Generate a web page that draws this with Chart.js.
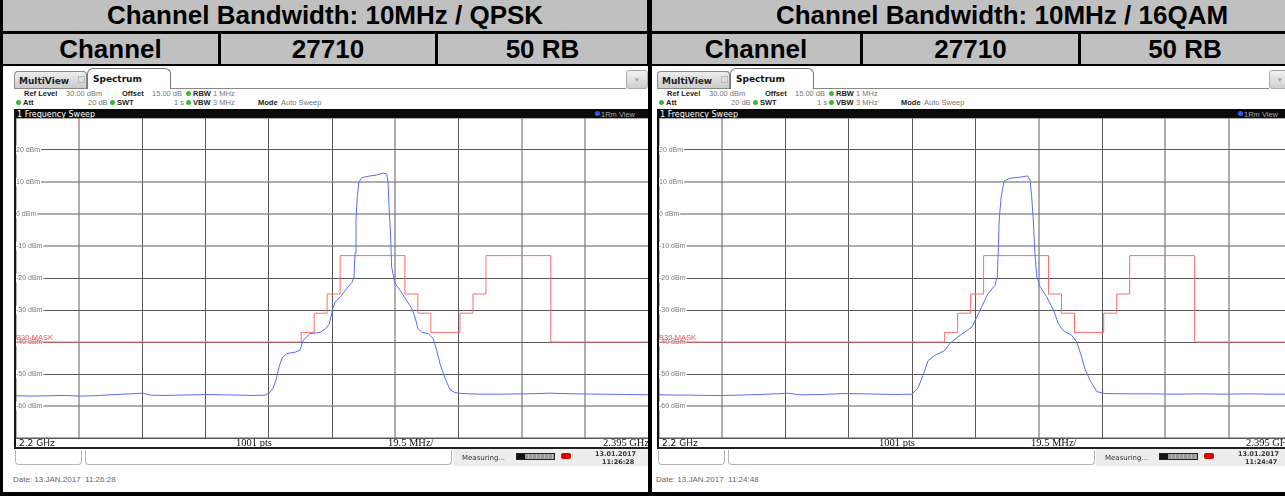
<!DOCTYPE html>
<html><head><meta charset="utf-8">
<script src="https://cdn.jsdelivr.net/npm/chart.js@4.4.1/dist/chart.umd.min.js"></script>
<style>
html,body{margin:0;padding:0}
body{width:1285px;height:496px;overflow:hidden;position:relative;background:#000}
body div,body span,body canvas{position:absolute;box-sizing:border-box}
.t{white-space:pre;line-height:1}
</style></head><body>
<script>
// ---------------- data ----------------
const panelTitles = ['Channel Bandwidth: 10MHz / QPSK', 'Channel Bandwidth: 10MHz / 16QAM'];
const channelRow = ['Channel', '27710', '50 RB'];
const stampDates = ['Date: 13.JAN.2017  11:26:28', 'Date: 13.JAN.2017  11:24:48'];
const stampTimes = ['11:26:28', '11:24:47'];
const freqStartMHz = 2200, freqStopMHz = 2395, freqDivMHz = 19.5;
const refLevel = 30, bottomLevel = -70, levelDiv = 10;

const leftFreq = [2200, 2205, 2210.5, 2215, 2219.4, 2224, 2229, 2235.2, 2239.2, 2241.3,
  2246, 2250.6, 2255, 2258.6, 2264, 2269.1, 2273, 2276.8, 2278.1, 2279.3,
  2280.2, 2281.1, 2282.1, 2283.6, 2286.1, 2287.6, 2288.6, 2289.5, 2290.7, 2293.8,
  2295.6, 2296.6, 2297.8, 2298.4, 2300.0, 2302.1, 2303.7, 2304.3, 2304.6, 2304.9,
  2305.3, 2305.8, 2306.7, 2308.2, 2311.3, 2313.2, 2314.4, 2314.8, 2315.1, 2315.6,
  2315.9, 2316.9, 2318.5, 2320.5, 2322.1, 2323.1, 2324.0, 2325.2, 2327.2, 2328.7,
  2329.8, 2330.8, 2332.4, 2333.9, 2335.4, 2337.6, 2343, 2349.3, 2357, 2364.8,
  2372, 2380.2, 2388, 2395];
const leftLevel = [-56.8, -56.9, -56.8, -56.7, -56.9, -56.8, -56.5, -56.2, -56.0, -56.6,
  -56.7, -56.6, -56.5, -56.4, -56.5, -56.6, -56.7, -56.6, -56.0, -54.5,
  -52.0, -48.0, -45.0, -43.6, -43.2, -42.6, -39.5, -38.6, -37.4, -37.0,
  -35.8, -34.5, -29.5, -27.6, -26.0, -23.2, -21.3, -19.7, -12.2, -1.9,
  5.3, 10.0, 11.3, 11.7, 12.2, 12.8, 12.5, 9.7, 2.3, -7.1,
  -16.5, -21.6, -23.8, -27.0, -29.5, -32.2, -35.8, -36.9, -37.4, -38.9,
  -42.6, -46.7, -51.4, -54.9, -55.8, -56.1, -56.3, -56.3, -56.2, -56.0,
  -56.2, -56.3, -56.4, -56.5];

const rightFreq = [2200, 2205, 2209.5, 2215, 2219.4, 2225, 2231.1, 2236, 2239.7, 2243.4,
  2250, 2257.3, 2263, 2268.1, 2273, 2277.9, 2279.8, 2281.3, 2282.9, 2285.0,
  2288.1, 2289.6, 2292.1, 2294.3, 2296.4, 2297.9, 2299.4, 2301.4, 2303.5, 2304.2,
  2304.5, 2304.8, 2305.4, 2306.3, 2308.1, 2311.2, 2313.5, 2314.3, 2314.8, 2315.3,
  2315.8, 2316.4, 2317.4, 2319.4, 2321.5, 2323.0, 2324.5, 2327.1, 2328.7, 2330.2,
  2331.2, 2332.8, 2334.9, 2337.4, 2344, 2351.3, 2359, 2366.7, 2374, 2382.1,
  2388, 2395];
const rightLevel = [-56.5, -56.6, -56.6, -56.7, -56.7, -56.6, -56.4, -56.2, -56.0, -56.5,
  -56.4, -56.1, -56.2, -56.3, -56.4, -56.3, -54.3, -50.5, -45.8, -44.2,
  -42.6, -40.4, -38.4, -36.8, -35.3, -32.2, -29.0, -24.8, -22.3, -19.7,
  -12.3, -1.9, 5.4, 10.3, 11.2, 11.5, 11.9, 10.7, 5.4, -1.9,
  -12.3, -19.7, -22.7, -25.8, -30.0, -34.2, -36.4, -37.9, -40.0, -44.7,
  -48.4, -52.0, -55.5, -56.1, -56.2, -56.2, -56.3, -56.2, -56.3, -56.2,
  -56.3, -56.3];

const maskFreq = [2200, 2288, 2292, 2296, 2300, 2320, 2324, 2328, 2337, 2341, 2345, 2365, 2395];
const maskLevel = [-40, -37, -31, -25, -13, -25, -31, -37, -31, -25, -13, -40, -40];
const maskName = 'B30-MASK';

// ---------------- helpers ----------------
function el(css, text, cls) {
  const d = document.createElement('div');
  d.style.cssText = css;
  if (cls) d.className = cls;
  if (text !== undefined) d.textContent = text;
  document.body.appendChild(d);
  return d;
}
const HDR = 'background:#c0c0c0;color:#000;font:bold 26px "Liberation Sans",Arial,sans-serif;display:flex;align-items:center;justify-content:center;white-space:nowrap;overflow:hidden;';

// header rows
el(`left:3px;top:0;width:644px;height:31px;${HDR}`, panelTitles[0]);
el(`left:652px;top:0;width:700px;height:31px;${HDR}`, panelTitles[1]);
[[3,215],[221,214],[438,209]].forEach((c,i)=>el(`left:${c[0]}px;top:34px;width:${c[1]}px;height:30px;${HDR}`, channelRow[i]));
[[652,208],[863,215],[1081,208]].forEach((c,i)=>el(`left:${c[0]}px;top:34px;width:${c[1]}px;height:30px;${HDR}`, channelRow[i]));

// image cells
el('left:3px;top:66px;width:645px;height:426px;background:#fff;');
el('left:652px;top:66px;width:700px;height:426px;background:#fff;');

const SM = 'font-family:"Liberation Sans",Arial,sans-serif;';
function txt(x, y, s, css) { return el(`left:${x}px;top:${y}px;${SM}font-size:7.5px;color:#777;${css||''}`, s, 't'); }
function dot(x, y, c) { el(`left:${x}px;top:${y}px;width:5px;height:5px;border-radius:3px;background:${c||'#3cb43c'};`); }

function buildPanel(dx, idx, plotW) {
  // tabs
  el(`left:${14+dx}px;top:71px;width:73px;height:18px;background:linear-gradient(#ececec,#c9c9c9);border:1px solid #8a8a8a;border-bottom:none;border-radius:4px 4px 0 0;`);
  el(`left:${19+dx}px;top:75.5px;font:bold 9px "DejaVu Sans",sans-serif;color:#222;`, 'MultiView', 't');
  el(`left:${78+dx}px;top:76px;width:7px;height:7px;border:1px solid #bbb;background:#ddd;`);
  el(`left:${87+dx}px;top:68px;width:84px;height:21px;background:#fff;border:1px solid #777;border-bottom:none;border-radius:6px 6px 0 0;`);
  el(`left:${93+dx}px;top:73.5px;font:bold 9px "DejaVu Sans",sans-serif;color:#111;`, 'Spectrum', 't');
  el(`left:${171+dx}px;top:88px;width:${455}px;height:1px;background:#888;`);
  el(`left:${14+dx}px;top:88px;width:73px;height:1px;background:#888;`);
  el(`left:${626+dx}px;top:70px;width:22px;height:19px;background:linear-gradient(#f2f2f2,#cfcfcf);border:1px solid #aaa;border-radius:3px;color:#999;font:7px sans-serif;text-align:center;line-height:17px;`, '\u25BE');
  // info lines
  const B = 'color:#222;font-weight:bold;';
  txt(24+dx, 90, 'Ref Level', B); txt(66+dx, 90, '30.00 dBm');
  txt(122+dx, 90, 'Offset', B); txt(152+dx, 90, '15.00 dB');
  dot(186+dx, 91); txt(193+dx, 90, 'RBW', B); txt(213+dx, 90, '1 MHz');
  dot(16+dx, 100); txt(23+dx, 99, 'Att', B); txt(88+dx, 99, '20 dB');
  dot(110+dx, 100); txt(117+dx, 99, 'SWT', B); txt(174+dx, 99, '1 s');
  dot(186+dx, 100); txt(193+dx, 99, 'VBW', B); txt(213+dx, 99, '3 MHz');
  txt(258+dx, 99, 'Mode', B); txt(281+dx, 99, 'Auto Sweep');
  // title bar
  el(`left:${14+dx}px;top:109px;width:${plotW+2}px;height:9px;background:#0a0a0a;`);
  el(`left:${17+dx}px;top:109.5px;font:8px "DejaVu Sans",sans-serif;color:#fff;`, '1 Frequency Sweep', 't');
  dot(595+dx, 111, '#2a5cff');
  el(`left:${601+dx}px;top:110px;font:7.5px "Liberation Sans",sans-serif;color:#aaa;`, '1Rm View', 't');
  // plot frame
  el(`left:${14+dx}px;top:109px;width:2px;height:340px;background:#111;`);
  const cv = document.createElement('canvas');
  cv.width = plotW; cv.height = 320;
  cv.style.cssText = `left:${16+dx}px;top:118px;width:${plotW}px;height:320px;`;
  document.body.appendChild(cv);
  // axis strip
  el(`left:${16+dx}px;top:438px;width:${plotW}px;height:1px;background:#555;`);
  el(`left:${19+dx}px;top:437.5px;font:9px "DejaVu Sans",sans-serif;color:#111;`, (freqStartMHz/1000).toFixed(1)+' GHz', 't');
  el(`left:${236+dx}px;top:437px;font:10.5px "Liberation Serif",serif;color:#111;`, '1001 pts', 't');
  el(`left:${388+dx}px;top:437px;font:10.5px "Liberation Serif",serif;color:#111;`, freqDivMHz+' MHz/', 't');
  el(`left:${603+dx}px;top:437px;font:10.5px "Liberation Serif",serif;color:#111;`, (freqStopMHz/1000).toFixed(3)+' GHz', 't');
  el(`left:${14+dx}px;top:447px;width:${plotW+2}px;height:2px;background:#222;`);
  // status bar
  el(`left:${15+dx}px;top:450px;width:67px;height:15px;border:1px solid #b5b5b5;border-top:none;border-radius:0 0 4px 4px;background:#fff;`);
  el(`left:${85+dx}px;top:450px;width:367px;height:15px;border:1px solid #b5b5b5;border-top:none;border-radius:0 0 4px 4px;background:#fff;`);
  el(`left:${453+dx}px;top:449px;width:${plotW-437}px;height:17px;background:#ededed;`);
  el(`left:${462+dx}px;top:454px;font:7px "DejaVu Sans",sans-serif;color:#333;`, 'Measuring...', 't');
  el(`left:${516+dx}px;top:453px;width:39px;height:7px;border:1px solid #222;background:repeating-linear-gradient(90deg,#999 0 3px,#bbb 3px 4px);`);
  el(`left:${517+dx}px;top:454px;width:8px;height:5px;background:#111;`);
  el(`left:${561+dx}px;top:453px;width:10px;height:6px;background:#d00;border-radius:2px;`);
  el(`left:${595+dx}px;top:450px;font:bold 6.5px "DejaVu Sans",sans-serif;color:#333;`, '13.01.2017', 't');
  el(`left:${602+dx}px;top:458px;font:bold 6.5px "DejaVu Sans",sans-serif;color:#333;`, stampTimes[idx], 't');
  // date
  el(`left:${13+dx}px;top:475px;font:8px "Liberation Sans",sans-serif;color:#666;`, stampDates[idx], 't');
  return cv;
}

const darkY = new Set([20, -20, -30, -40, -50]);
const darkX = [false, false, true, true, true, true, false, true, false, false, true];

const maskLabelPlugin = {
  id: 'maskLabel',
  afterDatasetsDraw(chart) {
    const {ctx, scales: {y}, chartArea} = chart;
    const py = y.getPixelForValue(maskLevel[0]);
    ctx.save();
    ctx.fillStyle = '#ff4d4d';
    ctx.font = '7.5px "Liberation Sans", sans-serif';
    ctx.textBaseline = 'bottom';
    ctx.fillText(maskName, chartArea.left, py);
    ctx.restore();
  }
};

function makeChart(cv, freq, level) {
  return new Chart(cv, {
    type: 'line',
    data: { datasets: [
      { data: freq.map((f, i) => ({x: f, y: level[i]})), borderColor: '#5a69ff', borderWidth: 1, pointRadius: 0, tension: 0 },
      { data: maskFreq.map((f, i) => ({x: f, y: maskLevel[i]})), borderColor: '#ff6b6b', borderWidth: 1, pointRadius: 0, stepped: true }
    ]},
    options: {
      responsive: false, animation: false, devicePixelRatio: 1,
      layout: { padding: 0 },
      plugins: { legend: { display: false }, tooltip: { enabled: false } },
      scales: {
        x: { type: 'linear', min: freqStartMHz, max: freqStopMHz,
          ticks: { display: false, stepSize: freqDivMHz },
          grid: { drawTicks: false,
            color: c => darkX[c.index] ? '#5a5a5a' : 'rgba(120,120,120,0.6)',
            lineWidth: c => darkX[c.index] ? 1 : 2 },
          border: { display: false } },
        y: { type: 'linear', min: bottomLevel, max: refLevel,
          afterFit: s => { s.paddingTop = 0; s.paddingBottom = 0; },
          ticks: { stepSize: levelDiv, mirror: true, padding: 0, color: '#7a7a7a',
            font: { family: 'Liberation Sans', size: 7 },
            callback: v => (v === refLevel || v === bottomLevel) ? '' : v + ' dBm',
            showLabelBackdrop: c => c.tick && c.tick.value !== refLevel && c.tick.value !== bottomLevel,
            backdropColor: '#fff', backdropPadding: {left: 1, right: 1, top: 0, bottom: 0} },
          grid: { drawTicks: false,
            color: c => (c.tick && darkY.has(c.tick.value)) ? '#5a5a5a' : 'rgba(120,120,120,0.6)',
            lineWidth: c => (c.tick && darkY.has(c.tick.value)) ? 1 : 2 },
          border: { display: false } }
      }
    },
    plugins: [maskLabelPlugin]
  });
}

const cvL = buildPanel(0, 0, 632);
const cvR = buildPanel(643, 1, 633);
makeChart(cvL, leftFreq, leftLevel);
makeChart(cvR, rightFreq, rightLevel);
</script>
</body></html>
